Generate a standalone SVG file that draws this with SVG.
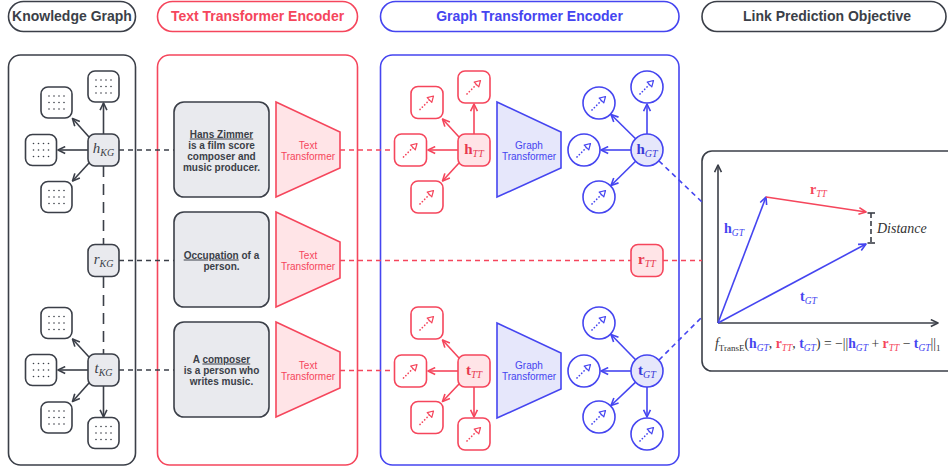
<svg xmlns="http://www.w3.org/2000/svg" width="948" height="468" viewBox="0 0 948 468">
<style>
.dk{stroke:#3b3f48}
.rd{stroke:#f5465c}
.bl{stroke:#4545f0}
.ln{fill:none;stroke-width:1.6}
.pan{fill:#fff;stroke-width:1.6}
.sans{font-family:"Liberation Sans",Arial,sans-serif}
.serif{font-family:"Liberation Serif","Times New Roman",serif}
.hdr{font-family:"Liberation Sans",Arial,sans-serif;font-size:14px;font-weight:bold;text-anchor:middle}
.bt{font-family:"Liberation Sans",Arial,sans-serif;font-size:10px;font-weight:bold;fill:#3b3f48;text-anchor:middle}
.tt{font-family:"Liberation Sans",Arial,sans-serif;font-size:10px;text-anchor:middle}
.u{text-decoration:underline}
.kgn{fill:#fff;stroke:#3b3f48;stroke-width:1.6}
.kgg{fill:#e9eaee;stroke:#3b3f48;stroke-width:1.6}
.rn{fill:#fff;stroke:#f5465c;stroke-width:1.6}
.rf{fill:#ffe4e7;stroke:#f5465c;stroke-width:1.6}
.bn{fill:#fff;stroke:#4545f0;stroke-width:1.6}
.bf{fill:#e6e7fb;stroke:#4545f0;stroke-width:1.6}
.dash{stroke-dasharray:5 4}
.ldash{stroke-dasharray:11 7}
.cb{fill:#4545f0}
.cr{fill:#f5465c}
</style>
<defs>
<marker id="ad" viewBox="0 0 10 10" refX="9" refY="5" markerWidth="9" markerHeight="9" markerUnits="userSpaceOnUse" orient="auto"><path d="M1,1.2 L9,5 L1,8.8" fill="none" stroke="#3b3f48" stroke-width="1.8" stroke-linejoin="round"/></marker>
<marker id="ar" viewBox="0 0 10 10" refX="9" refY="5" markerWidth="9" markerHeight="9" markerUnits="userSpaceOnUse" orient="auto"><path d="M1,1.2 L9,5 L1,8.8" fill="none" stroke="#f5465c" stroke-width="1.8" stroke-linejoin="round"/></marker>
<marker id="ab" viewBox="0 0 10 10" refX="9" refY="5" markerWidth="9" markerHeight="9" markerUnits="userSpaceOnUse" orient="auto"><path d="M1,1.2 L9,5 L1,8.8" fill="none" stroke="#4545f0" stroke-width="1.8" stroke-linejoin="round"/></marker>
<g id="kd" fill="#3b3f48">
<circle cx="-7.5" cy="-6.5" r="0.8"/><circle cx="-2.5" cy="-6.5" r="0.8"/><circle cx="2.5" cy="-6.5" r="0.8"/><circle cx="7.5" cy="-6.5" r="0.8"/>
<circle cx="-7.5" cy="0" r="0.8"/><circle cx="-2.5" cy="0" r="0.8"/><circle cx="2.5" cy="0" r="0.8"/><circle cx="7.5" cy="0" r="0.8"/>
<circle cx="-7.5" cy="6.5" r="0.8"/><circle cx="-2.5" cy="6.5" r="0.8"/><circle cx="2.5" cy="6.5" r="0.8"/><circle cx="7.5" cy="6.5" r="0.8"/>
</g>
<g id="da"><path d="M-7,7 L3,-3" fill="none" stroke-width="1.7" stroke-linecap="round" stroke-dasharray="0.1 3.2"/><path d="M6.5,-6.5 L0.2,-4.8 L4.8,-0.2 Z" fill="#fff" stroke-width="1.2" stroke-linejoin="round"/></g>
</defs>

<!-- headers -->
<g id="hdr-kg"><rect x="8.5" y="1.5" width="127" height="30" rx="15" fill="#fff" class="dk" stroke-width="1.6"/><text x="72" y="21" class="hdr" fill="#3b3f48">Knowledge Graph</text></g>
<g id="hdr-te"><rect x="157.5" y="1.5" width="200" height="30" rx="15" fill="#fff" class="rd" stroke-width="1.6"/><text x="257.5" y="21" class="hdr" fill="#f5465c">Text Transformer Encoder</text></g>
<g id="hdr-ge"><rect x="380.5" y="1.5" width="298.5" height="30" rx="15" fill="#fff" class="bl" stroke-width="1.6"/><text x="529.5" y="21" class="hdr" fill="#4545f0">Graph Transformer Encoder</text></g>
<g id="hdr-lp"><rect x="702" y="1.5" width="244" height="30" rx="15" fill="#fff" class="dk" stroke-width="1.6"/><text x="827" y="21" class="hdr" fill="#3b3f48">Link Prediction Objective</text></g>

<!-- panels -->
<g id="panel-kg"><rect x="8.5" y="55" width="127" height="410" rx="12" class="pan dk"/></g>
<g id="panel-te"><rect x="157.5" y="55" width="200" height="410" rx="12" class="pan rd"/></g>
<g id="panel-ge"><rect x="380.5" y="55" width="298.5" height="410" rx="12" class="pan bl"/></g>
<g id="panel-lp"><rect x="702" y="151" width="260" height="220" rx="10" class="pan dk"/></g>

<!-- connectors -->
<g id="connectors">
<g class="ln dk" marker-end="url(#ad)">
<line x1="103.5" y1="134" x2="103.5" y2="103"/>
<line x1="88" y1="150" x2="58" y2="150"/>
<line x1="89" y1="137" x2="72.5" y2="118.5"/>
<line x1="89" y1="163" x2="72.5" y2="181"/>
<line x1="89" y1="357" x2="72.5" y2="339"/>
<line x1="88" y1="370" x2="58" y2="370"/>
<line x1="89" y1="383" x2="72.5" y2="401.5"/>
<line x1="103.5" y1="386" x2="103.5" y2="417"/>
</g>
<g class="ln dk ldash">
<line x1="103.5" y1="166" x2="103.5" y2="245"/>
<line x1="103.5" y1="277" x2="103.5" y2="354"/>
</g>
<g class="ln dk dash">
<line x1="119" y1="150" x2="174" y2="150"/>
<line x1="119" y1="260.5" x2="174" y2="260.5"/>
<line x1="119" y1="370" x2="174" y2="370"/>
</g>
<g class="ln rd dash">
<line x1="340" y1="150" x2="394.5" y2="150"/>
<line x1="340" y1="260.5" x2="631" y2="260.5"/>
<line x1="663" y1="260.5" x2="702" y2="260.5"/>
<line x1="340" y1="370.5" x2="394.5" y2="370.5"/>
</g>
<g class="ln rd" marker-end="url(#ar)">
<line x1="474" y1="134" x2="474" y2="104"/>
<line x1="458" y1="150" x2="428" y2="150"/>
<line x1="459" y1="137" x2="442.5" y2="119"/>
<line x1="459" y1="163" x2="442.5" y2="181"/>
<line x1="459" y1="358" x2="442.5" y2="340"/>
<line x1="458" y1="371" x2="428" y2="371"/>
<line x1="459" y1="384" x2="442.5" y2="401.5"/>
<line x1="474" y1="387" x2="474" y2="417"/>
</g>
<g class="ln bl" marker-end="url(#ab)">
<line x1="647" y1="134" x2="647" y2="104"/>
<line x1="631" y1="150" x2="601" y2="150"/>
<line x1="635.6" y1="138.8" x2="611" y2="114.5"/>
<line x1="635.6" y1="161.2" x2="611" y2="185.5"/>
<line x1="635.6" y1="359.8" x2="611" y2="334.5"/>
<line x1="631" y1="371" x2="601" y2="371"/>
<line x1="635.6" y1="382.2" x2="611" y2="405.5"/>
<line x1="647" y1="387" x2="647" y2="417"/>
</g>
<g class="ln bl dash">
<line x1="659" y1="161" x2="702" y2="202"/>
<line x1="659" y1="360" x2="702" y2="317"/>
</g>
</g>

<!-- KG nodes -->
<g id="kg-h-top"><rect x="88" y="71" width="31" height="31" rx="7" class="kgn"/><use href="#kd" x="103.5" y="86.5"/></g>
<g id="kg-h-ul"><rect x="41" y="87" width="31" height="31" rx="7" class="kgn"/><use href="#kd" x="56.5" y="102.5"/></g>
<g id="kg-h-l"><rect x="25.5" y="134.5" width="31" height="31" rx="7" class="kgn"/><use href="#kd" x="41" y="150"/></g>
<g id="kg-h-ll"><rect x="41" y="181.5" width="31" height="31" rx="7" class="kgn"/><use href="#kd" x="56.5" y="197"/></g>
<g id="kg-t-ul"><rect x="41" y="307.5" width="31" height="31" rx="7" class="kgn"/><use href="#kd" x="56.5" y="323"/></g>
<g id="kg-t-l"><rect x="25.5" y="354.5" width="31" height="31" rx="7" class="kgn"/><use href="#kd" x="41" y="370"/></g>
<g id="kg-t-ll"><rect x="41" y="402" width="31" height="31" rx="7" class="kgn"/><use href="#kd" x="56.5" y="417.5"/></g>
<g id="kg-t-b"><rect x="88" y="417.5" width="31" height="31" rx="7" class="kgn"/><use href="#kd" x="103.5" y="433"/></g>
<g id="hKG"><rect x="88" y="134" width="31" height="32" rx="7" class="kgg"/><text x="103.5" y="153" class="serif" font-size="15" fill="#3b3f48" text-anchor="middle"><tspan font-style="italic">h</tspan><tspan font-style="italic" font-size="10" dy="3">KG</tspan></text></g>
<g id="rKG"><rect x="88" y="244.5" width="31" height="32" rx="7" class="kgg"/><text x="103.5" y="263.5" class="serif" font-size="15" fill="#3b3f48" text-anchor="middle"><tspan font-style="italic">r</tspan><tspan font-style="italic" font-size="10" dy="3">KG</tspan></text></g>
<g id="tKG"><rect x="88" y="354" width="31" height="32" rx="7" class="kgg"/><text x="103.5" y="373" class="serif" font-size="15" fill="#3b3f48" text-anchor="middle"><tspan font-style="italic">t</tspan><tspan font-style="italic" font-size="10" dy="3">KG</tspan></text></g>

<!-- text boxes -->
<g id="desc-h"><rect x="174" y="102" width="95" height="95" rx="10" class="kgg"/>
<text class="bt"><tspan x="221.5" y="137.5" class="u">Hans Zimmer</tspan><tspan x="221.5" y="148.5">is a film score</tspan><tspan x="221.5" y="159.5">composer and</tspan><tspan x="221.5" y="170.5">music producer.</tspan></text></g>
<g id="desc-r"><rect x="174" y="212" width="95" height="95" rx="10" class="kgg"/>
<text class="bt"><tspan x="221.5" y="258.5"><tspan class="u">Occupation</tspan> of a</tspan><tspan x="221.5" y="270">person.</tspan></text></g>
<g id="desc-t"><rect x="174" y="322" width="95" height="95" rx="10" class="kgg"/>
<text class="bt"><tspan x="221.5" y="362.5">A <tspan class="u">composer</tspan></tspan><tspan x="221.5" y="373.5">is a person who</tspan><tspan x="221.5" y="385">writes music.</tspan></text></g>

<!-- text transformers -->
<g id="tt-1"><polygon points="276,102 340,132 340,168 276,197" class="rf"/><text class="tt" fill="#f5465c"><tspan x="308" y="148.5">Text</tspan><tspan x="308" y="159.5">Transformer</tspan></text></g>
<g id="tt-2"><polygon points="276,212 340,242 340,278 276,307" class="rf"/><text class="tt" fill="#f5465c"><tspan x="308" y="258.5">Text</tspan><tspan x="308" y="269.5">Transformer</tspan></text></g>
<g id="tt-3"><polygon points="276,322 340,352 340,388 276,417" class="rf"/><text class="tt" fill="#f5465c"><tspan x="308" y="368.5">Text</tspan><tspan x="308" y="379.5">Transformer</tspan></text></g>

<!-- red text-embedding nodes -->
<g id="tt-h-top"><rect x="458" y="71" width="32" height="32" rx="7" class="rn"/><use href="#da" x="474" y="87" stroke="#f5465c"/></g>
<g id="tt-h-ul"><rect x="411" y="86.5" width="32" height="32" rx="7" class="rn"/><use href="#da" x="427" y="102.5" stroke="#f5465c"/></g>
<g id="tt-h-l"><rect x="394.5" y="134" width="32" height="32" rx="7" class="rn"/><use href="#da" x="410.5" y="150" stroke="#f5465c"/></g>
<g id="tt-h-ll"><rect x="411" y="181" width="32" height="32" rx="7" class="rn"/><use href="#da" x="427" y="197" stroke="#f5465c"/></g>
<g id="tt-t-ul"><rect x="411" y="307" width="32" height="32" rx="7" class="rn"/><use href="#da" x="427" y="323" stroke="#f5465c"/></g>
<g id="tt-t-l"><rect x="394.5" y="355" width="32" height="32" rx="7" class="rn"/><use href="#da" x="410.5" y="371" stroke="#f5465c"/></g>
<g id="tt-t-ll"><rect x="411" y="401.5" width="32" height="32" rx="7" class="rn"/><use href="#da" x="427" y="417.5" stroke="#f5465c"/></g>
<g id="tt-t-b"><rect x="458" y="418" width="32" height="32" rx="7" class="rn"/><use href="#da" x="474" y="434" stroke="#f5465c"/></g>
<g id="hTT"><rect x="458" y="134" width="32" height="32" rx="7" class="rf"/><text x="474" y="153.5" class="serif" font-size="15" fill="#e8394f" text-anchor="middle"><tspan font-weight="bold">h</tspan><tspan font-style="italic" font-size="10" dy="3">TT</tspan></text></g>
<g id="tTT"><rect x="458" y="355" width="32" height="32" rx="7" class="rf"/><text x="474" y="374.5" class="serif" font-size="15" fill="#e8394f" text-anchor="middle"><tspan font-weight="bold">t</tspan><tspan font-style="italic" font-size="10" dy="3">TT</tspan></text></g>
<g id="rTT"><rect x="631" y="244.5" width="32" height="32" rx="7" class="rf"/><text x="647" y="263.5" class="serif" font-size="15" fill="#e8394f" text-anchor="middle"><tspan font-weight="bold">r</tspan><tspan font-style="italic" font-size="10" dy="3">TT</tspan></text></g>

<!-- graph transformers -->
<g id="gt-1"><polygon points="497,102 561,132 561,168 497,197" class="bf"/><text class="tt" fill="#4545f0"><tspan x="529" y="148.5">Graph</tspan><tspan x="529" y="159.5">Transformer</tspan></text></g>
<g id="gt-2"><polygon points="497,323 561,353 561,389 497,418" class="bf"/><text class="tt" fill="#4545f0"><tspan x="529" y="368.5">Graph</tspan><tspan x="529" y="380">Transformer</tspan></text></g>

<!-- blue graph-embedding nodes -->
<g id="gn-h-top"><circle cx="647" cy="87" r="16" class="bn"/><use href="#da" x="647" y="87" stroke="#4545f0"/></g>
<g id="gn-h-ul"><circle cx="599" cy="103" r="16" class="bn"/><use href="#da" x="599" y="103" stroke="#4545f0"/></g>
<g id="gn-h-l"><circle cx="584" cy="150" r="16" class="bn"/><use href="#da" x="584" y="150" stroke="#4545f0"/></g>
<g id="gn-h-ll"><circle cx="599" cy="197" r="16" class="bn"/><use href="#da" x="599" y="197" stroke="#4545f0"/></g>
<g id="gn-t-ul"><circle cx="599" cy="323" r="16" class="bn"/><use href="#da" x="599" y="323" stroke="#4545f0"/></g>
<g id="gn-t-l"><circle cx="584" cy="371" r="16" class="bn"/><use href="#da" x="584" y="371" stroke="#4545f0"/></g>
<g id="gn-t-ll"><circle cx="599" cy="417" r="16" class="bn"/><use href="#da" x="599" y="417" stroke="#4545f0"/></g>
<g id="gn-t-b"><circle cx="647" cy="434" r="16" class="bn"/><use href="#da" x="647" y="434" stroke="#4545f0"/></g>
<g id="hGT"><circle cx="647" cy="150" r="16" class="bf"/><text x="647" y="153.5" class="serif" font-size="15" fill="#3a3ad8" text-anchor="middle"><tspan font-weight="bold">h</tspan><tspan font-style="italic" font-size="10" dy="3">GT</tspan></text></g>
<g id="tGT"><circle cx="647" cy="371" r="16" class="bf"/><text x="647" y="374.5" class="serif" font-size="15" fill="#3a3ad8" text-anchor="middle"><tspan font-weight="bold">t</tspan><tspan font-style="italic" font-size="10" dy="3">GT</tspan></text></g>

<!-- link prediction plot -->
<g id="plot">
<line x1="718" y1="323" x2="718" y2="165" class="ln dk" marker-end="url(#ad)"/>
<line x1="718" y1="323" x2="938" y2="323" class="ln dk" marker-end="url(#ad)"/>
<line x1="718" y1="323" x2="766" y2="197" class="ln bl" marker-end="url(#ab)"/>
<line x1="766" y1="197" x2="866" y2="212" class="ln rd" marker-end="url(#ar)"/>
<line x1="718" y1="323" x2="866" y2="244" class="ln bl" marker-end="url(#ab)"/>
<line x1="871" y1="213" x2="871" y2="243" class="ln dk" stroke-dasharray="5 3"/>
<line x1="867.5" y1="213" x2="875" y2="213" class="ln dk"/>
<line x1="867.5" y1="243" x2="875" y2="243" class="ln dk"/>
<text x="877" y="232.5" class="serif" font-size="14" font-style="italic" fill="#333">Distance</text>
<text x="724" y="233" class="serif" font-size="14" fill="#4545f0"><tspan font-weight="bold">h</tspan><tspan font-style="italic" font-size="9.5" dy="3">GT</tspan></text>
<text x="810" y="194" class="serif" font-size="14" fill="#f5465c"><tspan font-weight="bold">r</tspan><tspan font-style="italic" font-size="9.5" dy="3">TT</tspan></text>
<text x="800" y="301" class="serif" font-size="14" fill="#4545f0"><tspan font-weight="bold">t</tspan><tspan font-style="italic" font-size="9.5" dy="3">GT</tspan></text>
<text x="715" y="348" class="serif" font-size="13.7" fill="#333"><tspan font-style="italic">f</tspan><tspan font-size="9" dy="3">TransE</tspan><tspan dy="-3">(</tspan><tspan font-weight="bold" class="cb">h</tspan><tspan font-style="italic" font-size="9.5" dy="3" class="cb">GT</tspan><tspan dy="-3">, </tspan><tspan font-weight="bold" class="cr">r</tspan><tspan font-style="italic" font-size="9.5" dy="3" class="cr">TT</tspan><tspan dy="-3">, </tspan><tspan font-weight="bold" class="cb">t</tspan><tspan font-style="italic" font-size="9.5" dy="3" class="cb">GT</tspan><tspan dy="-3">) = −||</tspan><tspan font-weight="bold" class="cb">h</tspan><tspan font-style="italic" font-size="9.5" dy="3" class="cb">GT</tspan><tspan dy="-3"> + </tspan><tspan font-weight="bold" class="cr">r</tspan><tspan font-style="italic" font-size="9.5" dy="3" class="cr">TT</tspan><tspan dy="-3"> − </tspan><tspan font-weight="bold" class="cb">t</tspan><tspan font-style="italic" font-size="9.5" dy="3" class="cb">GT</tspan><tspan dy="-3">||</tspan><tspan font-size="9" dy="3">1</tspan></text>
</g>
</svg>
